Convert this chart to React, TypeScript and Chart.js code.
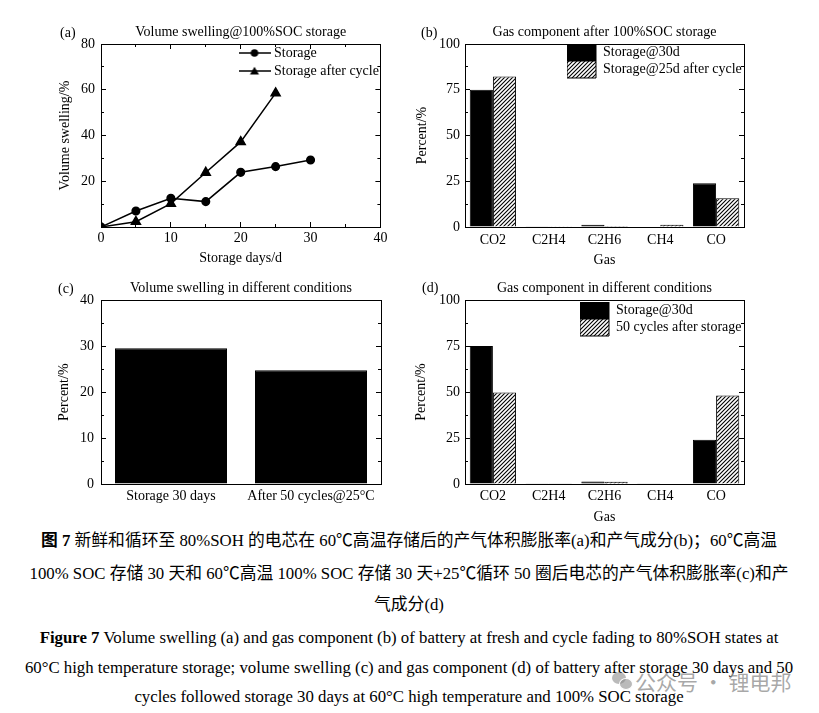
import React, { useEffect, useRef } from 'react';
import { Chart, registerables } from 'chart.js';

Chart.register(...registerables);
Chart.defaults.font.family = '"Liberation Serif", "Times New Roman", serif';
Chart.defaults.font.size = 14;
Chart.defaults.color = '#000';

// (a) volume swelling vs storage days
const days = [0, 5, 10, 15, 20, 25, 30];
const storageSwelling = [0, 7.0, 12.6, 11.1, 23.9, 26.4, 29.3];
const cycleDays = [0, 5, 10, 15, 20, 25];
const cycleSwelling = [0, 2.3, 10.2, 23.8, 37.2, 58.5];
const dayTicks = [0, 10, 20, 30, 40];
const swellTicks = [0, 20, 40, 60, 80];

// (b) gas component after 100%SOC storage
const gases = ['CO2', 'C2H4', 'C2H6', 'CH4', 'CO'];
const gasStorage30d = [75.0, 0.2, 1.2, 0.3, 23.9];
const gasCycle25d = [82.3, 0.1, 0.6, 1.2, 15.7];
const percentTicks = [0, 25, 50, 75, 100];

// (c) volume swelling in different conditions
const conditions = ['Storage 30 days', 'After 50 cycles@25°C'];
const conditionSwelling = [29.6, 24.8];
const conditionTicks = [0, 10, 20, 30, 40];

// (d) gas component in different conditions
const gasStorage30dD = [75.0, 0.2, 1.3, 0.2, 24.0];
const gas50Cycles = [49.7, 0.4, 1.2, 0.3, 48.1];

const edge = { display: true, color: '#000', width: 1 };
const tickMarks = (len: number) => ({
  display: true,
  drawOnChartArea: false,
  drawTicks: true,
  tickLength: len,
  color: '#000',
  lineWidth: 1,
});

// extra axis used only for the box frame and inward (minor) ticks
function ghost(position: string, type: string, ticks: number[] | null, step: number | undefined, len: number) {
  const vertical = position === 'left' || position === 'right';
  return {
    type,
    position,
    min: ticks ? ticks[0] : undefined,
    max: ticks ? ticks[ticks.length - 1] : undefined,
    weight: 0,
    ticks: { display: false, stepSize: step, autoSkip: false },
    grid: len ? tickMarks(len) : { display: false, drawTicks: false },
    border: edge,
    afterFit: (s: any) => {
      if (vertical) s.width = 0;
      else s.height = 0;
    },
  };
}

// legend sits inside the plot box, top right
function placeLegend(x: number, y: number) {
  const move = (chart: any) => {
    const lg = chart.legend;
    if (!lg) return;
    lg.left = x;
    lg.right = chart.width;
    lg.top = y;
    lg.bottom = y + 300;
  };
  return {
    id: 'placeLegend',
    afterLayout: move,
    beforeDraw: move,
  };
}

function hatch() {
  const n = 4;
  const c = document.createElement('canvas');
  c.width = n;
  c.height = n;
  const g = c.getContext('2d');
  if (!g) return '#888';
  g.fillStyle = '#fff';
  g.fillRect(0, 0, n, n);
  g.strokeStyle = '#000';
  g.lineWidth = 1.1;
  g.beginPath();
  g.moveTo(0, n);
  g.lineTo(n, 0);
  g.moveTo(-1, 1);
  g.lineTo(1, -1);
  g.moveTo(n - 1, n + 1);
  g.lineTo(n + 1, n - 1);
  g.stroke();
  return g.createPattern(c, 'repeat') || '#888';
}

function lineMark(kind: 'circle' | 'triangle') {
  const c = document.createElement('canvas');
  c.width = 32;
  c.height = 12;
  const g = c.getContext('2d');
  if (!g) return c;
  g.strokeStyle = '#000';
  g.lineWidth = 1.5;
  g.beginPath();
  g.moveTo(0, 6);
  g.lineTo(32, 6);
  g.stroke();
  g.fillStyle = '#000';
  g.beginPath();
  if (kind === 'circle') {
    g.arc(16, 6, 3.8, 0, Math.PI * 2);
  } else {
    const r = 5.2;
    for (let k = 0; k < 3; k++) {
      const a = (k * 2 * Math.PI) / 3;
      const px = 16 + Math.sin(a) * r;
      const py = 7 - Math.cos(a) * r;
      if (k === 0) g.moveTo(px, py);
      else g.lineTo(px, py);
    }
    g.closePath();
  }
  g.fill();
  return c;
}

const titleOpts = (text: string, top: number, bottom: number) => ({
  display: true,
  text,
  fullSize: false,
  font: { size: 14, weight: 'normal' as const },
  padding: { top, bottom },
});

function buildA() {
  const marks = [lineMark('circle'), lineMark('triangle')];
  return {
    type: 'line',
    data: {
      datasets: [
        {
          label: 'Storage',
          data: days.map((d, i) => ({ x: d, y: storageSwelling[i] })),
          borderColor: '#000',
          backgroundColor: '#000',
          borderWidth: 1.5,
          pointStyle: 'circle',
          pointRadius: 3.8,
        },
        {
          label: 'Storage after cycle',
          data: cycleDays.map((d, i) => ({ x: d, y: cycleSwelling[i] })),
          borderColor: '#000',
          backgroundColor: '#000',
          borderWidth: 1.5,
          pointStyle: 'triangle',
          pointRadius: 5.2,
        },
      ],
    },
    options: {
      responsive: false,
      animation: false,
      layout: { padding: { left: 0, right: 14, top: 0, bottom: 0 } },
      scales: {
        x: {
          type: 'linear',
          position: 'bottom',
          weight: 1,
          min: dayTicks[0],
          max: dayTicks[dayTicks.length - 1],
          ticks: { stepSize: dayTicks[1] - dayTicks[0], padding: 7.6 },
          grid: tickMarks(-5),
          border: edge,
          title: { display: true, text: 'Storage days/d', padding: { top: 0, bottom: 8.6 } },
          afterFit: (s: any) => { s.height = 48; },
        },
        y: {
          type: 'linear',
          position: 'left',
          weight: 1,
          min: swellTicks[0],
          max: swellTicks[swellTicks.length - 1],
          ticks: {
            stepSize: swellTicks[1] - swellTicks[0],
            padding: 11,
            callback: (v: any) => (v === 0 ? '' : String(v)),
          },
          grid: tickMarks(-5),
          border: edge,
          title: { display: true, text: 'Volume swelling/%', padding: { top: 6.6, bottom: 0 } },
          afterFit: (s: any) => { s.width = 51; },
        },
        xMinor: ghost('bottom', 'linear', dayTicks, 5, -3),
        yMinor: ghost('left', 'linear', swellTicks, 10, -3),
        xTop: ghost('top', 'linear', dayTicks, 10, -5),
        xTopMinor: ghost('top', 'linear', dayTicks, 5, -3),
        yRight: ghost('right', 'linear', swellTicks, 20, -5),
        yRightMinor: ghost('right', 'linear', swellTicks, 10, -3),
      },
      plugins: {
        title: titleOpts('Volume swelling@100%SOC storage', 4, 3.2),
        tooltip: { enabled: false },
        legend: {
          position: 'chartArea',
          align: 'start',
          labels: {
            usePointStyle: true,
            pointStyleWidth: 25,
            padding: 4,
            font: { size: 14 },
            generateLabels: (chart: any) =>
              Chart.defaults.plugins.legend.labels
                .generateLabels(chart)
                .map((it: any, i: number) => ({ ...it, pointStyle: marks[i] })),
          },
        },
      },
    },
    plugins: [placeLegend(188, 22)],
  };
}

function gasChart(title: string, names: string[], first: number[], second: number[], legendX: number, legendY: number, top: number, height: number, yTitlePad: number, xTickPad: number, xTitlePad: number) {
  const pat = hatch();
  return {
    type: 'bar',
    data: {
      labels: gases,
      datasets: [
        {
          label: names[0],
          data: first,
          backgroundColor: '#000',
          borderColor: '#000',
          borderWidth: 1,
          categoryPercentage: 0.83,
          barPercentage: 1,
        },
        {
          label: names[1],
          data: second,
          backgroundColor: pat,
          borderColor: '#000',
          borderWidth: 1,
          categoryPercentage: 0.83,
          barPercentage: 1,
        },
      ],
    },
    options: {
      responsive: false,
      animation: false,
      layout: { padding: { left: 0, right: 46, top: 0, bottom: 0 } },
      scales: {
        x: {
          type: 'category',
          position: 'bottom',
          weight: 1,
          ticks: { padding: xTickPad },
          grid: { display: false, drawTicks: false },
          border: edge,
          title: { display: true, text: 'Gas', padding: { top: 0, bottom: xTitlePad } },
          afterFit: (s: any) => { s.height = height - top; },
        },
        y: {
          type: 'linear',
          position: 'left',
          weight: 1,
          min: percentTicks[0],
          max: percentTicks[percentTicks.length - 1],
          ticks: { stepSize: percentTicks[1] - percentTicks[0], padding: 10 },
          grid: tickMarks(-5),
          border: edge,
          title: { display: true, text: 'Percent/%', padding: { top: yTitlePad, bottom: 0 } },
          afterFit: (s: any) => { s.width = 55; },
        },
        yMinor: ghost('left', 'linear', percentTicks, 12.5, -3),
        xTop: ghost('top', 'category', null, undefined, 0),
        yRight: ghost('right', 'linear', percentTicks, 25, -5),
        yRightMinor: ghost('right', 'linear', percentTicks, 12.5, -3),
      },
      plugins: {
        title: titleOpts(title, top === 207 ? 4 : 0, 3.2),
        tooltip: { enabled: false },
        legend: {
          position: 'chartArea',
          align: 'start',
          labels: { boxWidth: 29, boxHeight: 17, padding: 0, font: { size: 14 } },
        },
      },
    },
    plugins: [placeLegend(legendX, legendY)],
  };
}

function buildB() {
  return gasChart('Gas component after 100%SOC storage', ['Storage@30d', 'Storage@25d after cycle'], gasStorage30d, gasCycle25d, 157, 24, 207, 255, 3.6, 5.3, 5.9);
}

function buildD() {
  return gasChart('Gas component in different conditions', ['Storage@30d', '50 cycles after storage'], gasStorage30dD, gas50Cycles, 170, 22, 204, 250, 3.3, 4.3, 4.6);
}

function buildC() {
  return {
    type: 'bar',
    data: {
      labels: conditions,
      datasets: [
        {
          label: 'Volume swelling',
          data: conditionSwelling,
          backgroundColor: '#000',
          borderColor: '#000',
          borderWidth: 1,
          categoryPercentage: 0.8,
          barPercentage: 1,
        },
      ],
    },
    options: {
      responsive: false,
      animation: false,
      layout: { padding: { left: 0, right: 14, top: 0, bottom: 0 } },
      scales: {
        x: {
          type: 'category',
          position: 'bottom',
          weight: 1,
          ticks: { padding: 4.3 },
          grid: { display: false, drawTicks: false },
          border: edge,
          afterFit: (s: any) => { s.height = 46; },
        },
        y: {
          type: 'linear',
          position: 'left',
          weight: 1,
          min: conditionTicks[0],
          max: conditionTicks[conditionTicks.length - 1],
          ticks: { stepSize: conditionTicks[1] - conditionTicks[0], padding: 12 },
          grid: tickMarks(-5),
          border: edge,
          title: { display: true, text: 'Percent/%', padding: { top: 5.6, bottom: 0 } },
          afterFit: (s: any) => { s.width = 51; },
        },
        yMinor: ghost('left', 'linear', conditionTicks, 5, -3),
        xTop: ghost('top', 'category', null, undefined, 0),
        yRight: ghost('right', 'linear', conditionTicks, 10, -5),
        yRightMinor: ghost('right', 'linear', conditionTicks, 5, -3),
      },
      plugins: {
        title: titleOpts('Volume swelling in different conditions', 0, 3.2),
        tooltip: { enabled: false },
        legend: { display: false },
      },
    },
  };
}

function Panel({ left, top, width, height, build }: { left: number; top: number; width: number; height: number; build: () => any }) {
  const ref = useRef<HTMLCanvasElement | null>(null);
  useEffect(() => {
    if (!ref.current) return;
    const chart = new Chart(ref.current, build());
    return () => chart.destroy();
  }, []);
  return (
    <canvas
      ref={ref}
      width={width}
      height={height}
      style={{ position: 'absolute', left, top, width, height }}
    />
  );
}

const letter = (text: string, left: number, top: number) => (
  <div style={{ position: 'absolute', left, top, fontSize: 14, lineHeight: '16px' }}>{text}</div>
);

const line = (top: number, content: React.ReactNode) => (
  <div
    style={{
      position: 'absolute',
      left: 0,
      top,
      width: 818,
      textAlign: 'center',
      fontSize: 16.8,
      lineHeight: '20px',
      whiteSpace: 'nowrap',
    }}
  >
    {content}
  </div>
);

const grey = 'rgba(140,140,140,0.6)';

export default function App() {
  return (
    <div
      style={{
        position: 'absolute',
        left: 0,
        top: 0,
        width: 819,
        height: 713,
        background: '#fff',
        color: '#000',
        fontFamily: '"Liberation Serif", "Noto Sans CJK SC", serif',
        overflow: 'hidden',
      }}
    >
      <Panel left={50} top={20} width={345} height={255} build={buildA} />
      <Panel left={410} top={20} width={380} height={255} build={buildB} />
      <Panel left={50} top={280} width={345} height={250} build={buildC} />
      <Panel left={410} top={280} width={380} height={250} build={buildD} />
      {letter('(a)', 60, 25)}
      {letter('(b)', 421, 25)}
      {letter('(c)', 58, 281)}
      {letter('(d)', 422, 280)}
      {line(531, <><b>图 7</b> 新鲜和循环至 80%SOH 的电芯在 60℃高温存储后的产气体积膨胀率(a)和产气成分(b)；60℃高温</>)}
      {line(564, '100% SOC 存储 30 天和 60℃高温 100% SOC 存储 30 天+25℃循环 50 圈后电芯的产气体积膨胀率(c)和产')}
      {line(595, '气成分(d)')}
      {line(628, <><b>Figure 7</b> Volume swelling (a) and gas component (b) of battery at fresh and cycle fading to 80%SOH states at</>)}
      {line(658, '60°C high temperature storage; volume swelling (c) and gas component (d) of battery after storage 30 days and 50')}
      {line(687, 'cycles followed storage 30 days at 60°C high temperature and 100% SOC storage')}
      <div style={{ position: 'absolute', left: 612, top: 672, width: 14, height: 12, borderRadius: '50%', background: grey }} />
      <div style={{ position: 'absolute', left: 619, top: 678, width: 12, height: 10, borderRadius: '50%', background: grey, border: '1px solid #fff' }} />
      <div
        style={{
          position: 'absolute',
          left: 635,
          top: 668,
          fontSize: 21,
          lineHeight: '26px',
          color: 'rgba(140,140,140,0.75)',
          fontFamily: '"Noto Sans CJK SC", sans-serif',
          whiteSpace: 'nowrap',
        }}
      >
        公众号 · 锂电邦
      </div>
    </div>
  );
}
